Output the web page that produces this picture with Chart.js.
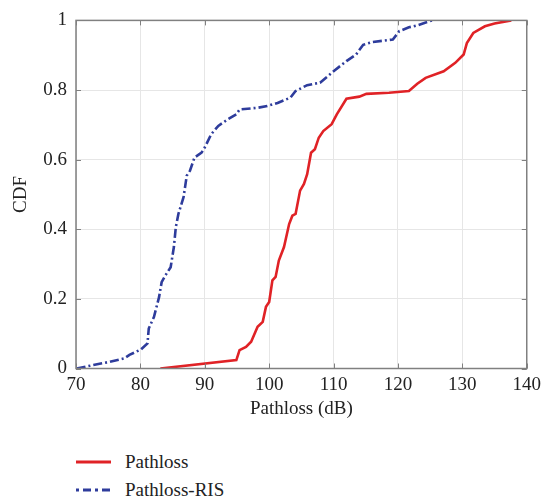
<!DOCTYPE html>
<html><head><meta charset="utf-8">
<script src="https://cdn.jsdelivr.net/npm/chart.js@4.4.0/dist/chart.umd.min.js"></script>
<style>
html,body{margin:0;padding:0;background:#fff;}
#wrap{position:relative;width:546px;height:503px;overflow:hidden;}
#c{position:absolute;left:0;top:0;}
.leg{position:absolute;left:76px;font-family:"Liberation Serif",serif;font-size:19px;color:#222;display:flex;align-items:center;height:24px;line-height:24px;}
.leg span{margin-left:13px;}
</style></head><body>
<div id="wrap">
<canvas id="c" width="546" height="430" style="width:546px;height:430px"></canvas>
<div class="leg" style="top:450px"><svg width="36" height="6"><line x1="0" y1="3" x2="35" y2="3" stroke="#e02226" stroke-width="3"/></svg><span>Pathloss</span></div>
<div class="leg" style="top:478px"><svg width="36" height="6"><line x1="0" y1="3" x2="35" y2="3" stroke="#2e3c9c" stroke-width="3" stroke-dasharray="3,4,8,4"/></svg><span>Pathloss-RIS</span></div>
</div>
<script>
// Series: Pathloss (red)
const pathlossX = [83.1, 94.9, 95.4, 96.4, 97.2, 98.2, 99.0, 99.5, 100.0, 100.5, 101.0, 101.5, 102.3, 103.1, 103.6, 104.1, 104.8, 105.4, 105.9, 106.5, 107.1, 107.7, 108.4, 109.7, 110.5, 112.0, 114.0, 115.1, 118.6, 121.7, 123.0, 124.3, 127.1, 128.9, 130.2, 130.7, 131.7, 133.5, 135.0, 137.6];
const pathlossCdf = [0.0, 0.024, 0.053, 0.062, 0.077, 0.12, 0.134, 0.177, 0.191, 0.253, 0.263, 0.31, 0.349, 0.415, 0.439, 0.444, 0.511, 0.53, 0.558, 0.62, 0.63, 0.663, 0.682, 0.702, 0.73, 0.775, 0.781, 0.789, 0.792, 0.797, 0.818, 0.835, 0.854, 0.878, 0.902, 0.935, 0.964, 0.983, 0.991, 1.0];
// Series: Pathloss-RIS (blue)
const risX = [70.1, 72.7, 75.2, 77.5, 78.3, 80.1, 81.1, 81.3, 82.1, 82.9, 83.3, 83.9, 84.7, 85.2, 85.5, 85.9, 86.7, 87.2, 87.7, 88.4, 89.5, 90.0, 91.0, 92.1, 93.6, 94.9, 95.4, 98.2, 99.7, 101.3, 103.3, 104.1, 105.9, 107.9, 110.0, 112.0, 113.5, 114.6, 116.1, 119.2, 120.2, 121.7, 123.2, 125.3];
const risCdf = [0.0, 0.01, 0.019, 0.029, 0.039, 0.055, 0.072, 0.115, 0.148, 0.205, 0.248, 0.268, 0.291, 0.349, 0.406, 0.444, 0.492, 0.554, 0.568, 0.606, 0.62, 0.635, 0.673, 0.697, 0.716, 0.73, 0.744, 0.749, 0.754, 0.763, 0.778, 0.797, 0.814, 0.821, 0.854, 0.883, 0.902, 0.930, 0.938, 0.945, 0.969, 0.98, 0.987, 1.0];
// Axes
const xMin = 70, xMax = 140, xStep = 10;
const yMin = 0, yMax = 1, yStep = 0.2;
const xTitle = 'Pathloss (dB)';
const yTitle = 'CDF';

const toPts = (xs, ys) => xs.map((x, i) => ({x, y: ys[i]}));
const FAMILY = '"Liberation Serif", "Times New Roman", serif';
Chart.defaults.font.family = FAMILY;
Chart.defaults.font.size = 19;
Chart.defaults.color = '#222';
const mkFont = () => ({family: FAMILY, size: 19});

const boxTicks = {
  id: 'boxTicks',
  afterDraw(chart) {
    const {ctx, chartArea: a, scales: {x, y}} = chart;
    ctx.save();
    ctx.strokeStyle = '#808080';
    ctx.lineWidth = 1;
    ctx.beginPath();
    const L = 5;
    x.ticks.forEach(t => {
      const px = Math.round(x.getPixelForValue(t.value)) + 0.5;
      ctx.moveTo(px, a.bottom); ctx.lineTo(px, a.bottom - L);
      ctx.moveTo(px, a.top); ctx.lineTo(px, a.top + L);
    });
    y.ticks.forEach(t => {
      const py = Math.round(y.getPixelForValue(t.value)) + 0.5;
      ctx.moveTo(a.left, py); ctx.lineTo(a.left + L, py);
      ctx.moveTo(a.right, py); ctx.lineTo(a.right - L, py);
    });
    ctx.stroke();
    ctx.lineWidth = 1.5;
    ctx.strokeRect(a.left, a.top, a.right - a.left, a.bottom - a.top);
    ctx.restore();
  }
};

new Chart(document.getElementById('c'), {
  type: 'line',
  data: {
    datasets: [
      {label: 'Pathloss', data: toPts(pathlossX, pathlossCdf), borderColor: '#e02226', borderWidth: 2.6, pointRadius: 0, tension: 0, fill: false},
      {label: 'Pathloss-RIS', data: toPts(risX, risCdf), borderColor: '#2e3c9c', borderWidth: 2.6, borderDash: [9, 3, 2, 3], pointRadius: 0, tension: 0, fill: false}
    ]
  },
  options: {
    responsive: false,
    animation: false,
    layout: {padding: {left: 0, right: 13, top: 19, bottom: 0}},
    plugins: {legend: {display: false}, tooltip: {enabled: false}},
    scales: {
      x: {
        type: 'linear', min: xMin, max: xMax,
        ticks: {stepSize: xStep, font: mkFont(), color: '#222', padding: 5, maxRotation: 0},
        grid: {color: '#e6e6e6', drawTicks: false},
        border: {display: false},
        title: {display: true, text: xTitle, font: mkFont(), color: '#222', padding: {top: 0, bottom: 10}},
        afterFit(s) { s.height = 61.5; }
      },
      y: {
        type: 'linear', min: yMin, max: yMax,
        ticks: {stepSize: yStep, font: mkFont(), color: '#222', padding: 9,
          callback: v => String(Number(v.toFixed(1)))},
        grid: {color: '#e6e6e6', drawTicks: false},
        border: {display: false},
        title: {display: true, text: yTitle, font: mkFont(), color: '#222', padding: {top: 10, bottom: 0}},
        afterFit(s) { s.width = 76; }
      }
    }
  },
  plugins: [boxTicks]
});
</script>
</body></html>
